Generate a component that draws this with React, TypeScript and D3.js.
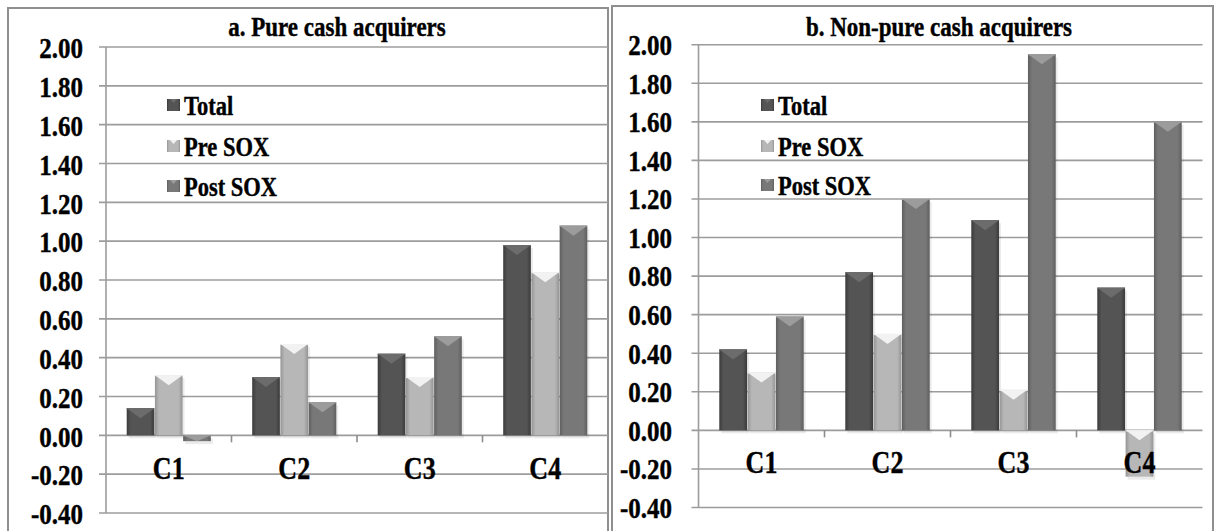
import React from "react";
import * as d3 from "d3";

const categories = ["C1", "C2", "C3", "C4"];
const seriesNames = ["Total", "Pre SOX", "Post SOX"];
const yTickValues = [-0.4, -0.2, 0, 0.2, 0.4, 0.6, 0.8, 1.0, 1.2, 1.4, 1.6, 1.8, 2.0];

// panel a
const pureTotal = [0.14, 0.3, 0.42, 0.98];
const purePre = [0.31, 0.47, 0.3, 0.84];
const purePost = [-0.03, 0.17, 0.51, 1.08];

// panel b
const nonPureTotal = [0.42, 0.82, 1.09, 0.74];
const nonPurePre = [0.3, 0.5, 0.21, -0.24];
const nonPurePost = [0.59, 1.2, 1.95, 1.6];

const FONT = "'Liberation Serif', 'Times New Roman', serif";
const STRETCH = 1.2; // text in the source image is squeezed horizontally

const barStyle: Record<string, { edge: string; mid: string; cap: string }> = {
  Total: { edge: "#3b3b3b", mid: "#545454", cap: "#6c6c6c" },
  "Pre SOX": { edge: "#959595", mid: "#b7b7b7", cap: "#f2f2f2" },
  "Post SOX": { edge: "#5f5f5f", mid: "#787878", cap: "#9c9c9c" },
};
const gradId = (s: string) => "g-" + s.replace(/\s/g, "");

const Label: React.FC<{
  x: number;
  y: number;
  size: number;
  anchor?: "start" | "middle" | "end";
  children: React.ReactNode;
}> = ({ x, y, size, anchor = "start", children }) => (
  <text
    transform={`translate(${x},${y}) scale(1,${STRETCH})`}
    textAnchor={anchor}
    dominantBaseline="central"
    fontFamily={FONT}
    fontWeight="bold"
    fontSize={size}
    fill="#000"
    stroke="#000"
    strokeWidth={0.35}
  >
    {children}
  </text>
);

interface PanelProps {
  title: string;
  series: number[][];
  box: [number, number, number]; // x0, y0, x1
  plot: { left: number; right: number; top: number; bottom: number };
  labelX: number;
  labelDy: number;
  titleX: number;
  legendX: number;
  legendY: number[];
  catLabelDy: number;
}

const Panel: React.FC<PanelProps> = (p) => {
  const y = d3.scaleLinear().domain([-0.4, 2.0]).range([p.plot.bottom, p.plot.top]);
  const x0 = d3.scaleBand<string>().domain(categories).range([p.plot.left, p.plot.right]);
  const bw = x0.bandwidth();
  const x1 = d3
    .scaleBand<string>()
    .domain(seriesNames)
    .range([bw * 0.165, bw * 0.835])
    .paddingInner(0.02);
  const y0 = y(0);

  return (
    <g>
      <rect
        x={p.box[0]}
        y={p.box[1]}
        width={p.box[2] - p.box[0]}
        height={560}
        fill="white"
        stroke="#8f8f8f"
        strokeWidth={2}
      />
      <Label x={p.titleX} y={26} size={23} anchor="middle">
        {p.title}
      </Label>
      {/* gridlines + y labels */}
      {yTickValues.map((t) => (
        <g key={t}>
          <line
            x1={p.plot.left - 7}
            x2={p.plot.right}
            y1={y(t)}
            y2={y(t)}
            stroke="#9c9c9c"
            strokeWidth={1.6}
          />
          <Label x={p.labelX} y={y(t) + p.labelDy} size={25} anchor="end">
            {t.toFixed(2)}
          </Label>
        </g>
      ))}
      <line
        x1={p.plot.left}
        x2={p.plot.left}
        y1={y(2.0)}
        y2={y(-0.4)}
        stroke="#9c9c9c"
        strokeWidth={1.6}
      />
      {/* category ticks */}
      {categories.slice(1).map((c) => (
        <line
          key={c}
          x1={x0(c)}
          x2={x0(c)}
          y1={y0}
          y2={y0 + 7}
          stroke="#8c8c8c"
          strokeWidth={1.6}
        />
      ))}
      {/* bars */}
      {categories.map((c, ci) => (
        <g key={c} transform={`translate(${x0(c)},0)`}>
          {seriesNames.map((s, si) => {
            const v = p.series[si][ci];
            const top = Math.min(y(v), y0);
            const h = Math.abs(y(v) - y0);
            const bx = x1(s) as number;
            const w = x1.bandwidth();
            const capH = Math.min(10, h);
            return (
              <g key={s}>
                <rect x={bx + 2} y={top + 3} width={w} height={h} fill="#000" opacity={0.08} />
                <rect x={bx} y={top} width={w} height={h} fill={`url(#${gradId(s)})`} />
                <polygon
                  points={`${bx},${top} ${bx + w},${top} ${bx + w / 2},${top + capH}`}
                  fill={barStyle[s].cap}
                />
                <line x1={bx} x2={bx + w} y1={top + 0.5} y2={top + 0.5} stroke={barStyle[s].cap} strokeWidth={1} />
              </g>
            );
          })}
        </g>
      ))}
      {/* category labels */}
      {categories.map((c) => (
        <Label key={c} x={(x0(c) as number) + bw / 2} y={y0 + p.catLabelDy} size={26} anchor="middle">
          {c}
        </Label>
      ))}
      {/* legend */}
      {seriesNames.map((s, i) => (
        <g key={s}>
          <rect
            x={p.legendX}
            y={p.legendY[i] - 6}
            width={13}
            height={12}
            fill={`url(#${gradId(s)})`}
          />
          <polygon
            points={`${p.legendX + 3},${p.legendY[i] - 6} ${p.legendX + 10},${p.legendY[i] - 6} ${p.legendX + 6.5},${p.legendY[i] - 2}`}
            fill={barStyle[s].cap}
          />
          <Label x={p.legendX + 17} y={p.legendY[i] + 1} size={22.5}>
            {s}
          </Label>
        </g>
      ))}
    </g>
  );
};

export default function App() {
  return (
    <svg
      width={1219}
      height={531}
      style={{ position: "absolute", left: 0, top: 0, background: "white" }}
    >
      <defs>
        {seriesNames.map((s) => (
          <linearGradient key={s} id={gradId(s)} x1="0" x2="1" y1="0" y2="0">
            <stop offset="0" stopColor={barStyle[s].edge} />
            <stop offset="0.15" stopColor={barStyle[s].mid} />
            <stop offset="0.85" stopColor={barStyle[s].mid} />
            <stop offset="1" stopColor={barStyle[s].edge} />
          </linearGradient>
        ))}
      </defs>
      <Panel
        title="a. Pure cash acquirers"
        series={[pureTotal, purePre, purePost]}
        box={[8, 8, 608]}
        plot={{ left: 106, right: 608, top: 47, bottom: 513 }}
        labelX={83}
        labelDy={1}
        titleX={337}
        legendX={167}
        legendY={[105, 146, 186]}
        catLabelDy={33}
      />
      <Panel
        title="b. Non-pure cash acquirers"
        series={[nonPureTotal, nonPurePre, nonPurePost]}
        box={[612, 6, 1213]}
        plot={{ left: 698.5, right: 1202.5, top: 44.7, bottom: 507.5 }}
        labelX={672}
        labelDy={0}
        titleX={939}
        legendX={761}
        legendY={[105, 146, 185]}
        catLabelDy={32}
      />
    </svg>
  );
}
